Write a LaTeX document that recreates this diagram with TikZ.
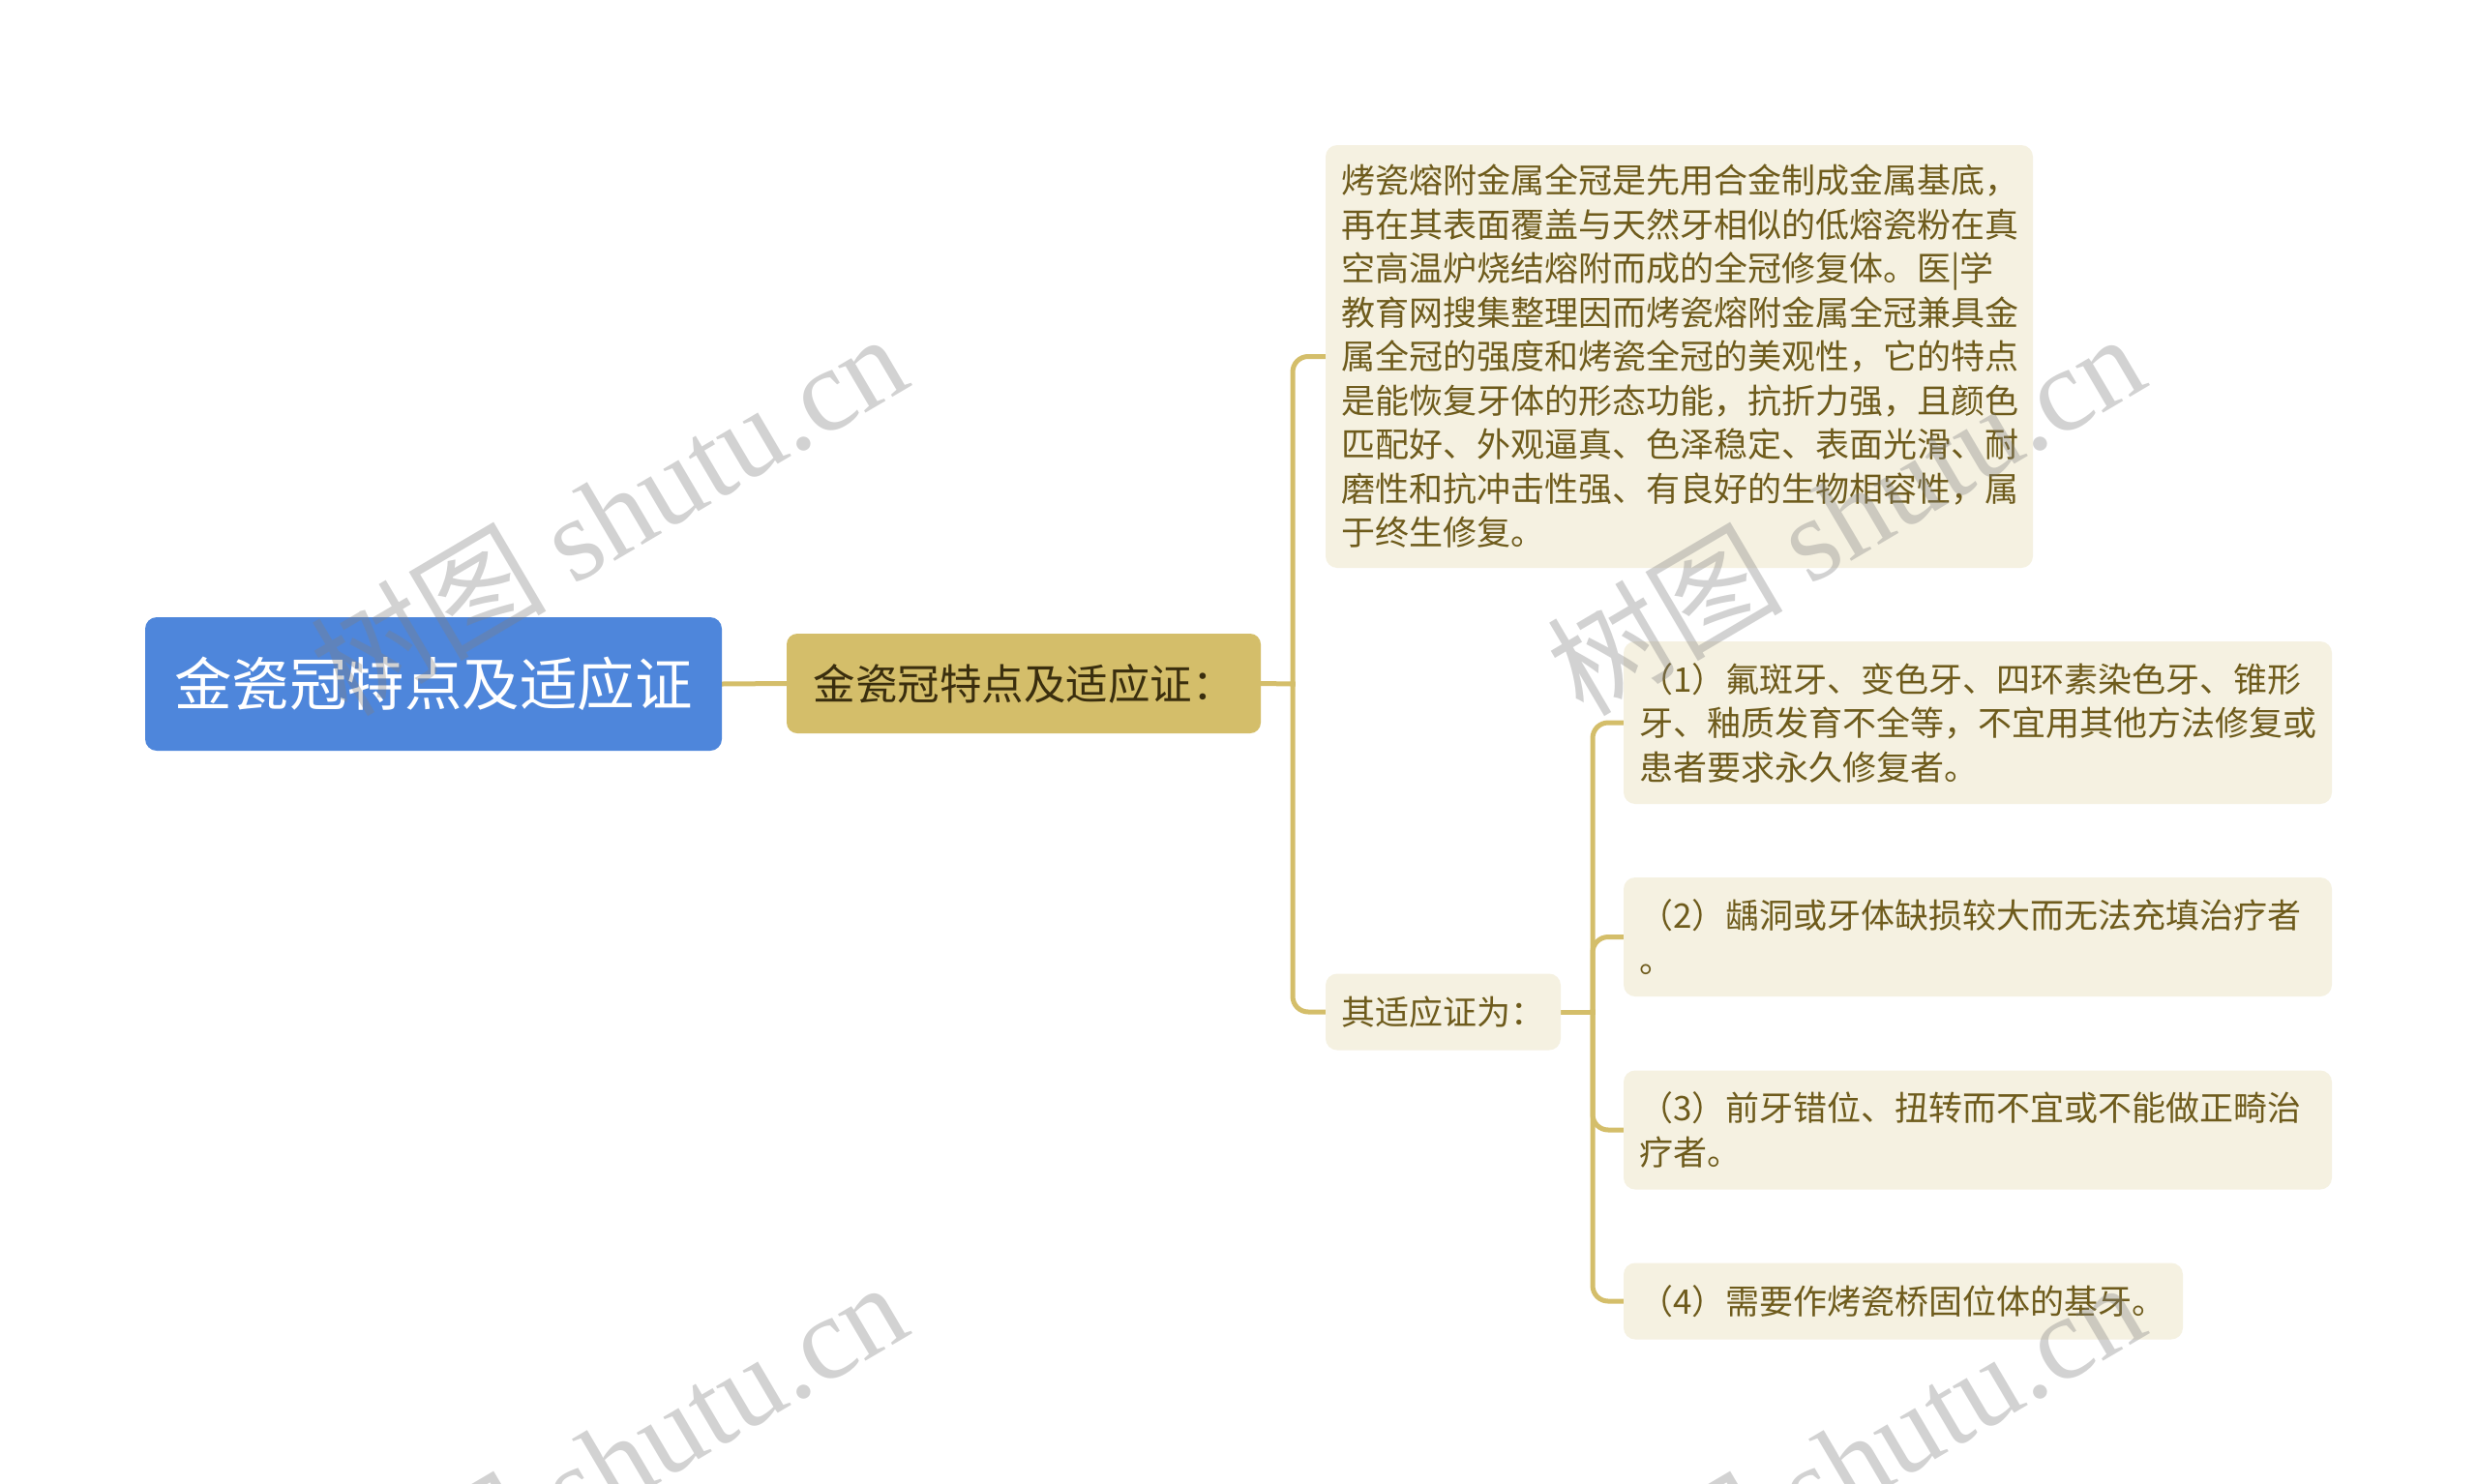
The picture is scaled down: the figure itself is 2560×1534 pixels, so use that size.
\documentclass[tikz,border=0pt]{standalone}
\usepackage{fontspec}
\setmainfont{Noto Sans CJK SC}
\newfontfamily\wmlatin{Liberation Serif}
\usetikzlibrary{backgrounds}
\definecolor{rootblue}{RGB}{78,134,219}
\definecolor{goldc}{RGB}{212,190,106}
\definecolor{creamc}{RGB}{245,241,225}
\definecolor{olivec}{RGB}{110,91,28}
\definecolor{darkbrown}{RGB}{58,46,14}
\definecolor{wmgray}{RGB}{128,128,128}
\begin{document}
\begin{tikzpicture}[x=1pt,y=-1pt,
 rootbox/.style={rectangle, rounded corners=12pt, fill=rootblue, text=white, font=\fontsize{59.5}{70}\selectfont, minimum width=596pt, minimum height=138pt, inner sep=0pt},
 lonebox/.style={rectangle, rounded corners=11pt, fill=goldc, text=darkbrown, font=\fontsize{43.5}{52}\selectfont, minimum width=490pt, minimum height=103pt, inner sep=0pt},
 leaf/.style={rectangle, rounded corners=12pt, fill=creamc, text=olivec, font=\fontsize{35}{45.5}\selectfont, align=left, inner xsep=16pt, inner ysep=0pt},
 conn/.style={draw=goldc, line width=5pt, line cap=rect},
 wm/.style={text=wmgray, opacity=0.35, rotate=30.5, anchor=base, font=\fontsize{122}{130}\selectfont}]
\useasboundingbox (0,0) rectangle (2560,1534);

\node[rootbox] (root) at (448,707) {金瓷冠特点及适应证};
\node[lonebox] (lone) at (1058,706.5) {金瓷冠特点及适应证：};

\node[leaf, text width=699pt, minimum height=437pt] (c1) at (1735.5,368.5) {烤瓷熔附金属全冠是先用合金制成金属基底，\\再在其表面覆盖与天然牙相似的低熔瓷粉在真\\空高温炉烧结熔附而成的全冠修复体。医|学\\教育网搜集整理因而烤瓷熔附金属全冠兼具金\\属全冠的强度和烤瓷全冠的美观性，它的特点\\是能恢复牙体的形态功能，抗折力强，且颜色\\匹配好、外观逼真、色泽稳定、表面光滑、耐\\磨性和抗冲击性强、有良好的生物相容性，属\\于终生修复。};
\node[leaf, text width=211pt, minimum height=79pt] (c2) at (1491.5,1046) {其适应证为：};

\node[leaf, text width=700pt, minimum height=168pt] (g1) at (2044,747) {（1）氟斑牙、变色牙、四环素染色牙、锥形\\牙、釉质发育不全等，不宜用其他方法修复或\\患者要求永久修复者。};
\node[leaf, text width=700pt, minimum height=123pt] (g2) at (2044,968.5) {（2）龋洞或牙体缺损较大而无法充填治疗者\\。};
\node[leaf, text width=700pt, minimum height=123pt] (g3) at (2044,1168) {（3）前牙错位、扭转而不宜或不能做正畸治\\疗者。};
\node[leaf, text width=546pt, minimum height=79pt] (g4) at (1967,1345) {（4）需要作烤瓷桥固位体的基牙。};

\coordinate (j1) at (1336,707);
\coordinate (j2) at (1646,1046);

\begin{scope}[on background layer]
\fill[white] (0,0) rectangle (2560,1534);
\draw[conn] (root.east) -- (lone.west);
\draw[conn] (lone.east) -- (j1);
\draw[conn, rounded corners=16pt] (j1) |- (c1.west);
\draw[conn, rounded corners=16pt] (j1) |- (c2.west);
\draw[conn] (c2.east) -- (j2);
\draw[conn, rounded corners=16pt] (j2) |- (g1.west);
\draw[conn, rounded corners=16pt] (j2) |- (g2.west);
\draw[conn, rounded corners=16pt] (j2) |- (g3.west);
\draw[conn, rounded corners=16pt] (j2) |- (g4.west);
\end{scope}

\begin{scope}
\clip (0,0) rectangle (2560,1534);
\node[wm] (wma) at (652,570) {树图 {\wmlatin shutu.cn}};
\node[wm] (wmb) at (1930,570) {树图 {\wmlatin shutu.cn}};
\node[wm] (wmc) at (652,1550) {树图 {\wmlatin shutu.cn}};
\node[wm] (wmd) at (1930,1550) {树图 {\wmlatin shutu.cn}};
\end{scope}
\end{tikzpicture}
\end{document}
